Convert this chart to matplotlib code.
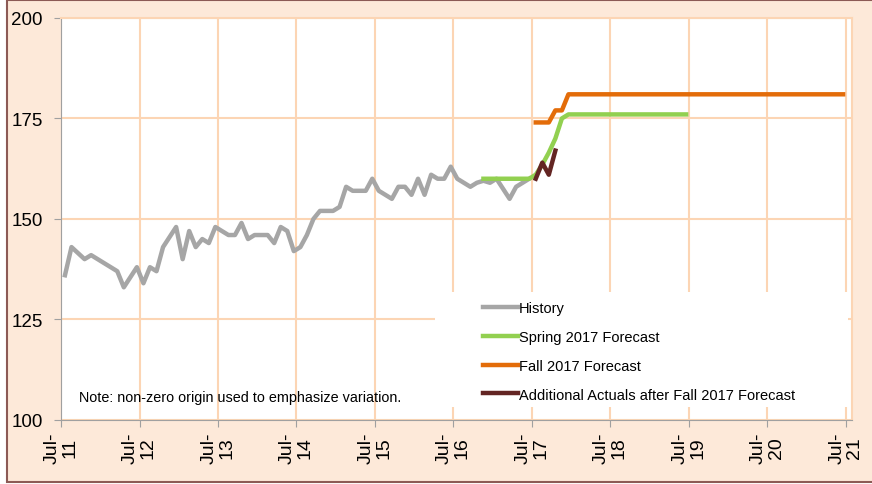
import matplotlib.pyplot as plt
from matplotlib.patches import Rectangle
import numpy as np

plt.rcParams['font.family'] = ['Liberation Sans', 'DejaVu Sans']

# monthly values, month index counted from Jul-2011
history = [136, 143, 141.5, 140, 141, 140, 139, 138, 137, 133, 135.5, 138,
           134, 138, 137, 143, 145.5, 148, 140, 147, 143, 145, 144, 148,
           147, 146, 146, 149, 145, 146, 146, 146, 144, 148, 147, 142,
           143, 146, 150, 152, 152, 152, 153, 158, 157, 157, 157, 160,
           157, 156, 155, 158, 158, 156, 160, 156, 161, 160, 160, 163,
           160, 159, 158, 159, 159.5, 159, 160, 157.5, 155, 158, 159, 160]
history_start = 0

spring = [160, 160, 160, 160, 160, 160, 160, 160, 161, 163.5, 166.5, 170, 175] + [176] * 19
spring_start = 64

fall = [174, 174, 174, 177, 177] + [181] * 43
fall_start = 72

actuals = [160, 164, 161, 167]
actuals_start = 72

tick_years = [2011.5 + i for i in range(11)]
tick_labels = ['Jul-\n%d' % (11 + i) for i in range(11)]


def xpos(start, vals):
    return 2011.5 + (start + np.arange(len(vals)) + 0.6) / 12.0


bg = '#FDE9D9'
grid_c = '#FCD5B4'

fig = plt.figure(figsize=(8.72, 4.85), dpi=100, facecolor='white')
fig.patches.append(Rectangle((7 / 872, 2 / 485), 1.0, 1 - 3 / 485, transform=fig.transFigure,
                             facecolor=bg, edgecolor='#8C5A55', linewidth=1.5, zorder=-10))
ax = fig.add_axes([0.070, 0.132, 0.907, 0.829])
ax.set_facecolor('white')

ax.plot(xpos(history_start, history), history, color='#A6A6A6', lw=3.2, label='History', zorder=3)
ax.plot(xpos(spring_start, spring), spring, color='#92D050', lw=3.2, label='Spring 2017 Forecast', zorder=4)
ax.plot(xpos(fall_start, fall), fall, color='#E36C09', lw=3.2, label='Fall 2017 Forecast', zorder=4)
ax.plot(xpos(actuals_start, actuals), actuals, color='#632523', lw=3.2,
        label='Additional Actuals after Fall 2017 Forecast', zorder=5)

ax.set_xlim(2011.5, 2021.58)
ax.set_ylim(100, 200)
ax.set_yticks([100, 125, 150, 175, 200])
ax.set_xticks(tick_years)
ax.set_xticklabels(tick_labels, rotation=90, fontsize=14, linespacing=1.05)
ax.tick_params(axis='y', labelsize=13.5, length=5, color='#A0A0A0', pad=8)
ax.tick_params(axis='x', length=5, color='#A0A0A0', pad=3)

ax.set_axisbelow(True)
ax.grid(True, color=grid_c, lw=1.5)
for s in ['left', 'bottom']:
    ax.spines[s].set_color('#A0A0A0')
for s in ['top', 'right']:
    ax.spines[s].set_color(grid_c)
    ax.spines[s].set_linewidth(1.5)

# white box behind the legend
ax.add_patch(Rectangle((0.473, 0.032), 0.522, 0.286, transform=ax.transAxes,
                       facecolor='white', edgecolor='none', zorder=1))
ax.legend(loc='upper left', bbox_to_anchor=(0.533, 0.296), frameon=False, fontsize=10.5,
          handlelength=2.4, handletextpad=0.1, labelspacing=1.02, borderpad=0, borderaxespad=0)

ax.text(0.023, 0.057, 'Note: non-zero origin used to emphasize variation.', transform=ax.transAxes,
        fontsize=10.4, va='center', ha='left')

fig.savefig('out.png', dpi=100, facecolor=fig.get_facecolor())
